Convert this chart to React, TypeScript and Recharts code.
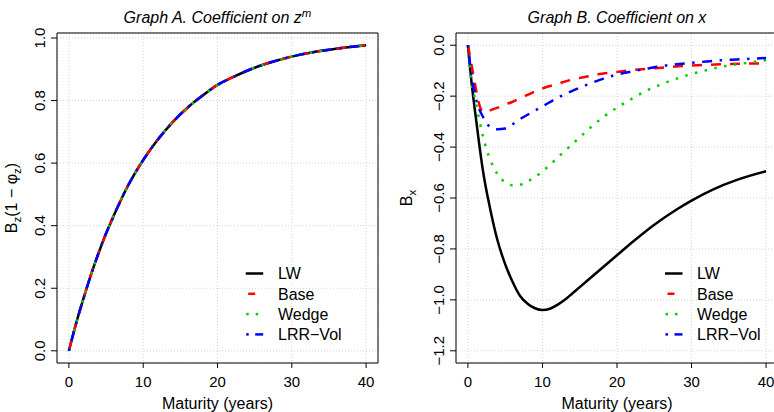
import React from 'react';
import { LineChart, Line, XAxis, YAxis, CartesianGrid, ReferenceArea } from 'recharts';

// ---------- Data ----------
const xTicks = [0, 10, 20, 30, 40];
const yTicksA = [0, 0.2, 0.4, 0.6, 0.8, 1.0];
const yTicksB = [0, -0.2, -0.4, -0.6, -0.8, -1.0, -1.2];

// Graph A: coefficient on z^m (all four models coincide)
const maturityA = [0, 1, 2, 3, 4, 5, 6, 8, 10, 12, 14, 16, 18, 20, 22, 25, 28, 31, 34, 37, 40];
const lwA = [0, 0.09, 0.17, 0.245, 0.313, 0.375, 0.43, 0.53, 0.61, 0.676, 0.732, 0.778, 0.816, 0.85, 0.874, 0.905, 0.928, 0.946, 0.959, 0.969, 0.977];
const baseA = [0, 0.09, 0.17, 0.245, 0.313, 0.375, 0.43, 0.53, 0.61, 0.676, 0.732, 0.778, 0.816, 0.85, 0.874, 0.905, 0.928, 0.946, 0.959, 0.969, 0.977];
const wedgeA = [0, 0.09, 0.17, 0.245, 0.313, 0.375, 0.43, 0.53, 0.61, 0.676, 0.732, 0.778, 0.816, 0.85, 0.874, 0.905, 0.928, 0.946, 0.959, 0.969, 0.977];
const lrrA = [0, 0.09, 0.17, 0.245, 0.313, 0.375, 0.43, 0.53, 0.61, 0.676, 0.732, 0.778, 0.816, 0.85, 0.874, 0.905, 0.928, 0.946, 0.959, 0.969, 0.977];

// Graph B: coefficient on x
const lwMat = [0, 0.5, 1, 1.5, 2, 3, 4, 5, 6, 7, 8, 9, 10, 11, 12, 13, 14, 15, 16, 18, 20, 22, 25, 28, 30, 33, 36, 40];
const lwB = [0, -0.15, -0.27, -0.385, -0.49, -0.645, -0.77, -0.86, -0.93, -0.985, -1.015, -1.033, -1.04, -1.035, -1.02, -1.0, -0.975, -0.95, -0.925, -0.875, -0.825, -0.775, -0.705, -0.645, -0.61, -0.565, -0.53, -0.495];

const baseMat = [0, 0.5, 1, 1.5, 2, 2.5, 3, 4, 5, 6, 8, 10, 12, 14, 16, 18, 20, 23, 26, 29, 32, 35, 38, 40];
const baseB = [0, -0.08, -0.16, -0.23, -0.262, -0.262, -0.256, -0.245, -0.233, -0.222, -0.195, -0.17, -0.152, -0.135, -0.123, -0.112, -0.105, -0.095, -0.088, -0.081, -0.077, -0.074, -0.072, -0.071];

const wedgeMat = [0, 0.5, 1, 1.5, 2, 2.5, 3, 4, 5, 6, 7, 8, 9, 10, 11, 12, 13, 14, 15, 16, 17, 18, 19, 20, 22, 24, 26, 28, 30, 32, 34, 36, 38, 40];
const wedgeB = [0, -0.15, -0.215, -0.29, -0.355, -0.41, -0.45, -0.508, -0.538, -0.55, -0.548, -0.535, -0.517, -0.495, -0.47, -0.442, -0.415, -0.388, -0.362, -0.335, -0.31, -0.285, -0.265, -0.245, -0.21, -0.178, -0.153, -0.131, -0.113, -0.098, -0.085, -0.075, -0.067, -0.059];

const lrrMat = [0, 0.5, 1, 1.5, 2, 2.5, 3, 4, 5, 6, 7, 8, 10, 12, 14, 16, 18, 20, 22, 24, 26, 28, 30, 32, 34, 36, 38, 40];
const lrrB = [0, -0.12, -0.2, -0.25, -0.28, -0.305, -0.322, -0.33, -0.327, -0.31, -0.29, -0.273, -0.24, -0.207, -0.179, -0.155, -0.133, -0.115, -0.103, -0.092, -0.082, -0.075, -0.069, -0.064, -0.059, -0.056, -0.053, -0.05];

const seriesNames = ['LW', 'Base', 'Wedge', 'LRR\u2212Vol'];

// ---------- Styles ----------
const FONT = '"Liberation Sans", Arial, Helvetica, sans-serif';
const COLORS = ['#000000', '#FF0000', '#00CD00', '#0000FF'];
const DASHES = [undefined, '10 9', '2.5 7.5', '2.5 7.5 10 7.5'];
const LW = 2.5;

const toPts = (xs: number[], ys: number[]) => xs.map((m, i) => ({ m, v: ys[i] }));

const fmt = (v: number) => {
  const s = Math.abs(v).toFixed(1);
  return v < -1e-9 ? '\u2212' + s : s;
};

const XTick = (props: any) => {
  const { x, y, payload } = props;
  return (
    <text x={x} y={y + 17} textAnchor="middle" fontSize={15} fontFamily={FONT} fill="#000">
      {payload.value}
    </text>
  );
};

const YTick = (props: any) => {
  const { x, y, payload } = props;
  const cx = x - 9;
  return (
    <text
      x={cx}
      y={y}
      dy="0.36em"
      transform={`rotate(-90 ${cx} ${y})`}
      textAnchor="middle"
      fontSize={15}
      fontFamily={FONT}
      fill="#000"
    >
      {fmt(payload.value)}
    </text>
  );
};

const XDOM: [number, number] = [-1.6, 41.6];
const YDOM_A: [number, number] = [-0.039, 1.016];
const YDOM_B: [number, number] = [-1.248, 0.048];

function Panel({ left, width, yAxisWidth, marginRight, yDomain, yTicks, series }: any) {
  return (
    <div style={{ position: 'absolute', left, top: 0 }}>
      <LineChart width={width} height={412} margin={{ top: 33, right: marginRight, bottom: 0, left: 0 }}>
        <CartesianGrid stroke="#d3d3d3" strokeDasharray="1 2" />
        <XAxis
          type="number"
          dataKey="m"
          domain={XDOM}
          ticks={xTicks}
          allowDataOverflow
          interval={0}
          axisLine={false}
          tickLine={{ stroke: '#000' }}
          tickSize={5}
          height={49}
          tick={(p: any) => <XTick {...p} />}
        />
        <YAxis
          type="number"
          dataKey="v"
          domain={yDomain}
          ticks={yTicks}
          allowDataOverflow
          interval={0}
          axisLine={false}
          tickLine={{ stroke: '#000' }}
          tickSize={6}
          width={yAxisWidth}
          tick={(p: any) => <YTick {...p} />}
        />
        <ReferenceArea
          x1={XDOM[0]}
          x2={XDOM[1]}
          y1={yDomain[0]}
          y2={yDomain[1]}
          fill="none"
          fillOpacity={0}
          stroke="#000"
          strokeWidth={1}
          ifOverflow="visible"
        />
        {series.map((d: any, i: number) => (
          <Line
            key={i}
            data={d}
            dataKey="v"
            type="monotone"
            dot={false}
            stroke={COLORS[i]}
            strokeWidth={LW}
            strokeDasharray={DASHES[i]}
            strokeLinejoin="round"
            isAnimationActive={false}
          />
        ))}
      </LineChart>
    </div>
  );
}

function LegendBlock({ sx, tx, y0 }: { sx: number; tx: number; y0: number }) {
  const rows = [0, 1, 2, 3];
  return (
    <g>
      {rows.map((i) => {
        const y = y0 + i * 20.3;
        let sample: any = null;
        if (i === 0) sample = <line x1={sx} x2={sx + 17.5} y1={y} y2={y} stroke={COLORS[0]} strokeWidth={LW} />;
        if (i === 1) sample = <line x1={sx + 2.5} x2={sx + 9.5} y1={y} y2={y} stroke={COLORS[1]} strokeWidth={LW} />;
        if (i === 2)
          sample = (
            <g>
              <rect x={sx + 0.5} y={y - 1.25} width={2.5} height={2.5} fill={COLORS[2]} />
              <rect x={sx + 10} y={y - 1.25} width={2.5} height={2.5} fill={COLORS[2]} />
            </g>
          );
        if (i === 3)
          sample = (
            <g>
              <rect x={sx + 0.5} y={y - 1.25} width={2.5} height={2.5} fill={COLORS[3]} />
              <line x1={sx + 9.5} x2={sx + 17.5} y1={y} y2={y} stroke={COLORS[3]} strokeWidth={LW} />
            </g>
          );
        return (
          <g key={i}>
            {sample}
            <text x={tx} y={y + 5.7} fontSize={16} fontFamily={FONT} fill="#000">
              {seriesNames[i]}
            </text>
          </g>
        );
      })}
    </g>
  );
}

export default function App() {
  const seriesA = [toPts(maturityA, lwA), toPts(maturityA, baseA), toPts(maturityA, wedgeA), toPts(maturityA, lrrA)];
  const seriesB = [toPts(lwMat, lwB), toPts(baseMat, baseB), toPts(wedgeMat, wedgeB), toPts(lrrMat, lrrB)];
  return (
    <div
      style={{
        position: 'absolute',
        left: 0,
        top: 0,
        width: 774,
        height: 412,
        overflow: 'hidden',
        background: '#fff',
      }}
    >
      <Panel left={0} width={390} yAxisWidth={57} marginRight={12} yDomain={YDOM_A} yTicks={yTicksA} series={seriesA} />
      <Panel left={385} width={400} yAxisWidth={71} marginRight={7} yDomain={YDOM_B} yTicks={yTicksB} series={seriesB} />
      <svg width={774} height={412} style={{ position: 'absolute', left: 0, top: 0, pointerEvents: 'none' }}>
        {/* Titles */}
        <text x={217.5} y={23.3} textAnchor="middle" fontSize={16} fontStyle="italic" fontFamily={FONT} fill="#000">
          Graph A. Coefficient on z
          <tspan dy={-6} fontSize={11.5}>m</tspan>
        </text>
        <text x={617} y={23.3} textAnchor="middle" fontSize={16} fontStyle="italic" fontFamily={FONT} fill="#000">
          Graph B. Coefficient on x
        </text>
        {/* X-axis titles */}
        <text x={217.5} y={408.5} textAnchor="middle" fontSize={16} fontFamily={FONT} fill="#000">
          Maturity (years)
        </text>
        <text x={617} y={408.5} textAnchor="middle" fontSize={16} fontFamily={FONT} fill="#000">
          Maturity (years)
        </text>
        {/* Y-axis titles */}
        <text
          x={17}
          y={198}
          transform="rotate(-90 17 198)"
          textAnchor="middle"
          fontSize={16}
          fontFamily={FONT}
          fill="#000"
        >
          B
          <tspan dy={4} fontSize={11.5}>z</tspan>
          <tspan dy={-4}>(1 {'\u2212'} φ</tspan>
          <tspan dy={4} fontSize={11.5}>z</tspan>
          <tspan dy={-4}>)</tspan>
        </text>
        <text
          x={411.7}
          y={198}
          transform="rotate(-90 411.7 198)"
          textAnchor="middle"
          fontSize={16}
          fontFamily={FONT}
          fill="#000"
        >
          B
          <tspan dy={4} fontSize={11.5}>x</tspan>
        </text>
        {/* Legends */}
        <LegendBlock sx={245.7} tx={278} y0={273.5} />
        <LegendBlock sx={665} tx={697} y0={273.5} />
      </svg>
    </div>
  );
}
